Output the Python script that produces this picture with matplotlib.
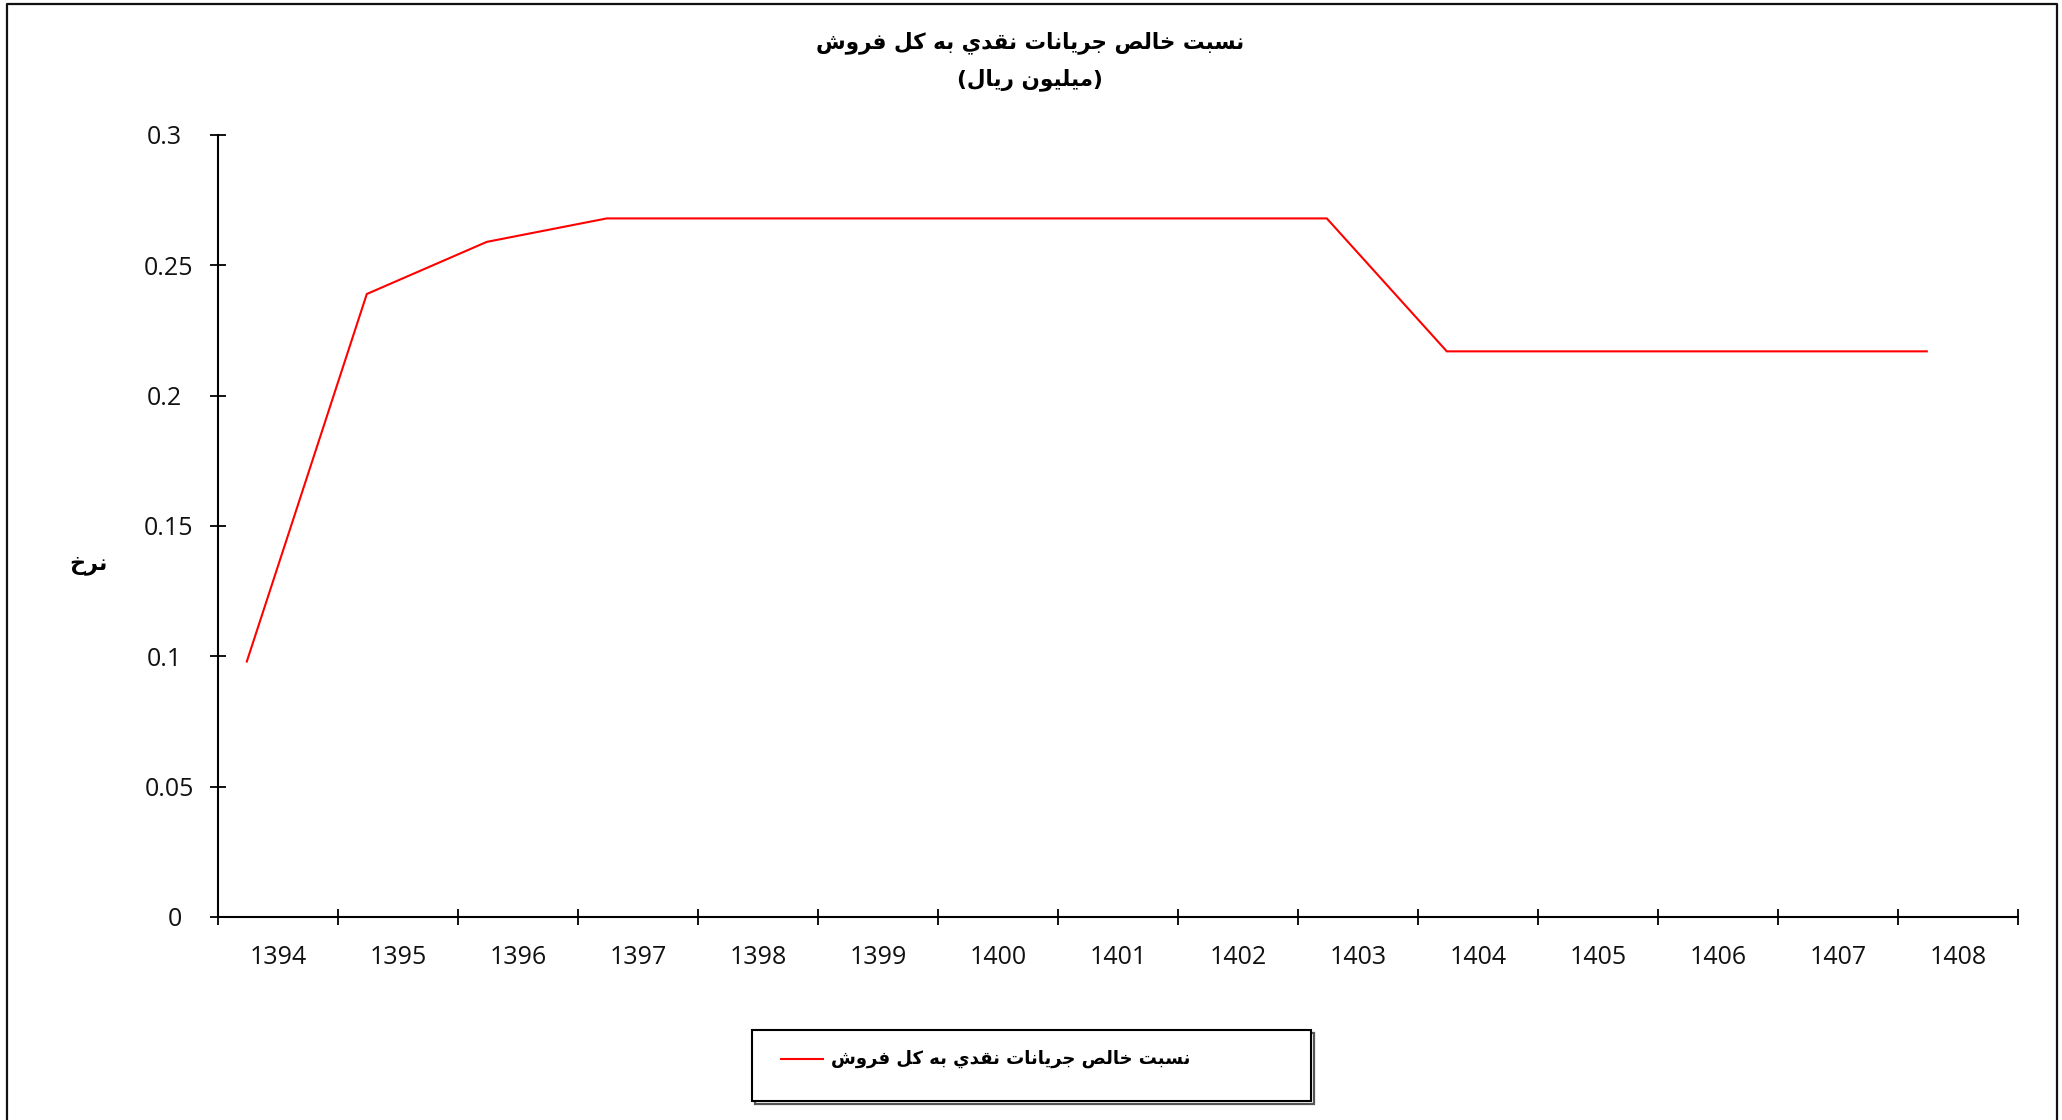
import numpy as np
import matplotlib
matplotlib.use("Agg")
import matplotlib.pyplot as plt
from matplotlib.lines import Line2D
from matplotlib.patches import Rectangle
from matplotlib.transforms import ScaledTranslation

# ---- data ----
years = ["1394", "1395", "1396", "1397", "1398", "1399", "1400", "1401",
         "1402", "1403", "1404", "1405", "1406", "1407", "1408"]
ratio = [0.098, 0.239, 0.259, 0.268, 0.268, 0.268, 0.268, 0.268,
         0.268, 0.268, 0.217, 0.217, 0.217, 0.217, 0.217]
y_ticks = [0, 0.05, 0.1, 0.15, 0.2, 0.25, 0.3]
y_tick_labels = ["0", "0.05", "0.1", "0.15", "0.2", "0.25", "0.3"]

title_line1 = "نسبت خالص جريانات نقدي به كل فروش"
title_line2 = "(ميليون ريال)"
y_title = "نرخ"
series_name = "نسبت خالص جريانات نقدي به كل فروش"

# ---- Arabic shaping (contextual forms + visual order) ----
# isolated, final, initial, medial
FORMS = {
    "\u0627": ("\uFE8D", "\uFE8E", None, None),
    "\u0628": ("\uFE8F", "\uFE90", "\uFE91", "\uFE92"),
    "\u062A": ("\uFE95", "\uFE96", "\uFE97", "\uFE98"),
    "\u062C": ("\uFE9D", "\uFE9E", "\uFE9F", "\uFEA0"),
    "\u062E": ("\uFEA5", "\uFEA6", "\uFEA7", "\uFEA8"),
    "\u062F": ("\uFEA9", "\uFEAA", None, None),
    "\u0631": ("\uFEAD", "\uFEAE", None, None),
    "\u0633": ("\uFEB1", "\uFEB2", "\uFEB3", "\uFEB4"),
    "\u0634": ("\uFEB5", "\uFEB6", "\uFEB7", "\uFEB8"),
    "\u0635": ("\uFEB9", "\uFEBA", "\uFEBB", "\uFEBC"),
    "\u0641": ("\uFED1", "\uFED2", "\uFED3", "\uFED4"),
    "\u0642": ("\uFED5", "\uFED6", "\uFED7", "\uFED8"),
    "\u0643": ("\uFED9", "\uFEDA", "\uFEDB", "\uFEDC"),
    "\u0644": ("\uFEDD", "\uFEDE", "\uFEDF", "\uFEE0"),
    "\u0645": ("\uFEE1", "\uFEE2", "\uFEE3", "\uFEE4"),
    "\u0646": ("\uFEE5", "\uFEE6", "\uFEE7", "\uFEE8"),
    "\u0647": ("\uFEE9", "\uFEEA", "\uFEEB", "\uFEEC"),
    "\u0648": ("\uFEED", "\uFEEE", None, None),
    "\u064A": ("\uFEF1", "\uFEF2", "\uFEF3", "\uFEF4"),
}
MIRROR = {"(": ")", ")": "("}


def shape(text):
    out = []
    n = len(text)
    for i, ch in enumerate(text):
        if ch not in FORMS:
            out.append(ch)
            continue
        prev = text[i - 1] if i > 0 else None
        nxt = text[i + 1] if i + 1 < n else None
        jp = prev in FORMS and FORMS[prev][2] is not None
        jn = nxt in FORMS and FORMS[ch][2] is not None
        f = FORMS[ch]
        if jp and jn:
            out.append(f[3])
        elif jp:
            out.append(f[1])
        elif jn:
            out.append(f[2])
        else:
            out.append(f[0])
    return "".join(MIRROR.get(c, c) for c in reversed(out))


AR_FONT = ["DejaVu Sans"]
NUM_FONT = ["Open Sans", "DejaVu Sans"]

W, H = 2062, 1120
fig = plt.figure(figsize=(W / 100, H / 100), dpi=100)
fig.patch.set_facecolor("white")

ax = fig.add_axes([218 / W, 1 - 917 / H, (2018 - 218) / W, (917 - 135) / H])
ax.set_facecolor("white")

x = np.arange(len(years)) + 0.24
ax.plot(x, ratio, color="#FF0000", lw=1.5, solid_joinstyle="miter")

ax.set_xlim(0, len(years))
ax.set_ylim(0, 0.3)

for s in ("top", "right"):
    ax.spines[s].set_visible(False)
for s in ("left", "bottom"):
    ax.spines[s].set_linewidth(1.5)
    ax.spines[s].set_color("black")

ax.set_xticks(np.arange(len(years) + 1))
ax.set_xticklabels([])
ax.set_xticks(np.arange(len(years)) + 0.5, minor=True)
ax.set_xticklabels(years, minor=True, fontsize=18, family=NUM_FONT, color="#111111")
ax.tick_params(axis="x", which="major", direction="inout", length=11, width=1.3)
ax.tick_params(axis="x", which="minor", length=0, pad=20)

ax.set_yticks(y_ticks)
ax.set_yticklabels(y_tick_labels, fontsize=18, family=NUM_FONT, color="#111111")
ax.tick_params(axis="y", direction="inout", length=11, width=1.3, pad=12)
# shorter labels end one digit further left
for lab, txt in zip(ax.get_yticklabels(), y_tick_labels):
    if len(txt) < 4:
        lab.set_transform(lab.get_transform() + ScaledTranslation(-8.5 / 72, 0, fig.dpi_scale_trans))

# titles
fig.text(1030 / W, 1 - 43 / H, shape(title_line1), ha="center", va="center",
         fontsize=15.5, fontweight="bold", family=AR_FONT)
fig.text(1030 / W, 1 - 80 / H, shape(title_line2), ha="center", va="center",
         fontsize=15.5, fontweight="bold", family=AR_FONT)
fig.text(88 / W, 1 - 565 / H, shape(y_title), ha="center", va="center",
         fontsize=16, fontweight="bold", family=AR_FONT)

# legend box
fig.add_artist(Rectangle((755 / W, 1 - 1104 / H), (1314 - 755) / W, (1104 - 1033) / H,
                         transform=fig.transFigure, facecolor="none",
                         edgecolor="#555555", lw=1.6))
fig.add_artist(Rectangle((752 / W, 1 - 1101 / H), (1311 - 752) / W, (1101 - 1030) / H,
                         transform=fig.transFigure, facecolor="white",
                         edgecolor="black", lw=1.5))
fig.add_artist(Line2D([781 / W, 823 / W], [1 - 1059 / H, 1 - 1059 / H],
                      transform=fig.transFigure, color="#FF0000", lw=1.5))
fig.text(831 / W, 1 - 1059 / H, shape(series_name), ha="left", va="center",
         fontsize=13, fontweight="bold", family=AR_FONT)

# outer chart border (left, top, right)
fig.add_artist(Line2D([7 / W, 7 / W, 2057 / W, 2057 / W],
                      [0, 1 - 4 / H, 1 - 4 / H, 0],
                      transform=fig.transFigure, color="#111111", lw=1.6))

fig.savefig("out.png", dpi=100, facecolor="white")
